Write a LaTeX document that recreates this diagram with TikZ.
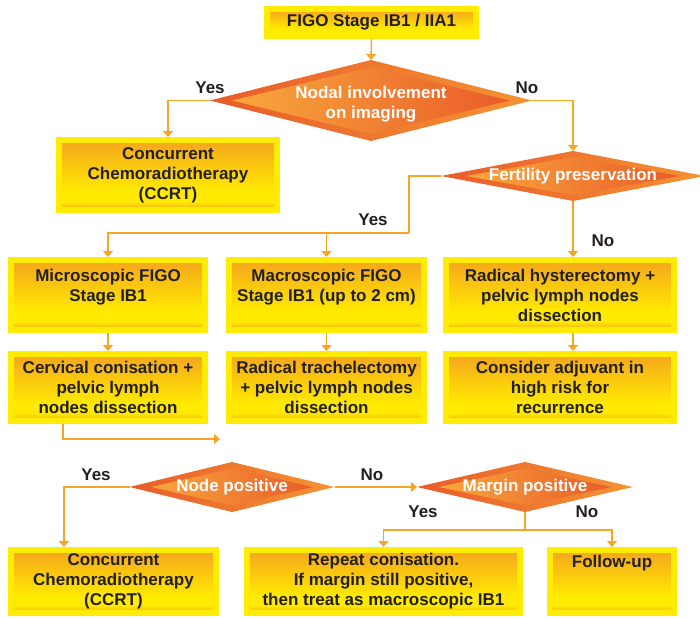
\documentclass[tikz,border=0pt]{standalone}
\usepackage{fontspec}
\setmainfont{Liberation Sans}
\usetikzlibrary{shapes.geometric,arrows.meta,calc}
\definecolor{frameY}{HTML}{FFEC00}
\definecolor{boxO}{HTML}{F6A91C}
\definecolor{boxY}{HTML}{FFEA00}
\definecolor{dDark}{HTML}{EA5B29}
\definecolor{dLight}{HTML}{F8A83C}
\definecolor{dOutR}{HTML}{F39433}
\definecolor{lineO}{HTML}{F6A623}
\definecolor{txt}{HTML}{231F20}
\pgfdeclareverticalshading{boxshade}{100bp}{color(0bp)=(boxO); color(25bp)=(boxO); color(31bp)=(boxY); color(38bp)=(boxY); color(73bp)=(boxO); color(100bp)=(boxO)}
\pgfdeclarehorizontalshading{dinner}{100bp}{color(0bp)=(dLight); color(25bp)=(dLight); color(75bp)=(dDark); color(100bp)=(dDark)}
\pgfdeclarehorizontalshading{douter}{100bp}{color(0bp)=(dDark); color(25bp)=(dDark); color(75bp)=(dOutR); color(100bp)=(dOutR)}
\tikzset{
  txtfont/.style={font=\bfseries\fontsize{17}{20}\selectfont},
  box/.style={rectangle, draw=frameY, line width=6pt, outer sep=3pt, shade, shading=boxshade,
    inner sep=0pt, align=center, text=txt, txtfont},
  dia/.style={diamond, inner sep=0pt, outer sep=0pt, shade, shading=douter},
  diain/.style={diamond, inner sep=0pt, outer sep=0pt, shade, shading=dinner},
  dtxt/.style={text=white, align=center, inner sep=0pt, txtfont},
  lbl/.style={text=txt, inner sep=0pt, txtfont},
  plain/.style={draw=lineO, line width=1.4pt},
  conn/.style={plain, -{Triangle[width=10pt,length=6pt]}},
}
\begin{document}
\begin{tikzpicture}[x=1pt,y=-1pt]
\useasboundingbox (0,0) rectangle (700,618);
% boxes
\node[box, minimum width=209pt, minimum height=27pt] (top) at (371.5,22.5) {FIGO Stage IB1 / IIA1};
\node[box, minimum width=218pt, minimum height=70pt] (cc1) at (168,175) {Concurrent\\Chemoradiotherapy\\(CCRT)};
\node[box, minimum width=194pt, minimum height=70pt] (a1) at (108,295) {Microscopic FIGO\\Stage IB1\\\phantom{S}};
\node[box, minimum width=195pt, minimum height=70pt] (b1) at (326.5,295) {Macroscopic FIGO\\Stage IB1 (up to 2 cm)\\\phantom{S}};
\node[box, minimum width=228pt, minimum height=70pt] (c1) at (560,295) {Radical hysterectomy +\\pelvic lymph nodes\\dissection};
\node[box, minimum width=194pt, minimum height=67pt] (a2) at (108,387.5) {Cervical conisation +\\pelvic lymph\\nodes dissection};
\node[box, minimum width=195pt, minimum height=67pt] (b2) at (326.5,387.5) {Radical trachelectomy\\+ pelvic lymph nodes\\dissection};
\node[box, minimum width=228pt, minimum height=67pt] (c2) at (560,387.5) {Consider adjuvant in\\high risk for\\recurrence};
\node[box, minimum width=205pt, minimum height=63pt] (cc2) at (113.5,581.5) {Concurrent\\Chemoradiotherapy\\(CCRT)};
\node[box, minimum width=273pt, minimum height=63pt] (rp) at (383.5,581.5) {Repeat conisation.\\If margin still positive,\\then treat as macroscopic IB1};
\node[box, minimum width=124pt, minimum height=63pt] (fu) at (612,581.5) {Follow-up\\\phantom{S}\\\phantom{S}};
% diamonds
\node[dia, minimum width=322pt, minimum height=81pt] (d1) at (371,100.5) {};
\node[diain, minimum width=278pt, minimum height=67pt] (d1i) at (d1) {};
\node[dtxt] (d1t) at ([yshift=-4pt]d1.center) {Nodal involvement\\on imaging};
\node[dia, minimum width=264pt, minimum height=50pt] (d2) at (573,176) {};
\node[diain, minimum width=214pt, minimum height=38pt] (d2i) at (d2) {};
\node[dtxt] (d2t) at (d2) {Fertility preservation};
\node[dia, minimum width=205pt, minimum height=50pt] (np) at (232,487) {};
\node[diain, minimum width=161pt, minimum height=37pt] (npi) at (np) {};
\node[dtxt] (npt) at (np) {Node positive};
\node[dia, minimum width=216pt, minimum height=50pt] (mp) at (525,487) {};
\node[diain, minimum width=172pt, minimum height=37pt] (mpi) at (mp) {};
\node[dtxt] (mpt) at (mp) {Margin positive};
% labels
\node[lbl] (yes1) at (210,88) {Yes};
\node[lbl] (no1) at (527,88) {No};
\node[lbl] (yes2) at (373,220) {Yes};
\node[lbl] (no2) at (603,241) {No};
\node[lbl] (yes3) at (96,475) {Yes};
\node[lbl] (no3) at (372,475) {No};
\node[lbl] (yes4) at (423,512) {Yes};
\node[lbl] (no4) at (587,512) {No};
% connectors
\draw[conn] (top.south) -- (d1.north);
\draw[conn] (d1.west) -| (cc1.north);
\draw[conn] (d1.east) -| (d2.north);
\coordinate (jn) at (409,233);
\draw[plain] (d2.west) -| (jn);
\draw[conn] (jn) -| (a1.north);
\draw[conn] (jn) -| (b1.north);
\draw[conn] (d2.south) -- (d2.south |- c1.north);
\draw[conn] (a1.south) -- (a2.north);
\draw[conn] (b1.south) -- (b2.north);
\draw[conn] (c1.south -| d2.south) -- (c2.north -| d2.south);
\coordinate (fe) at (220,439);
\draw[conn] ([xshift=-45pt]a2.south) |- (fe);
\draw[conn] (np.west) -| ([xshift=-49.5pt]cc2.north);
\draw[conn] (np.east) -- (mp.west);
\coordinate (mpj) at (525,530);
\draw[plain] (mp.south) -- (mpj);
\draw[conn] (mpj) -| (rp.north);
\draw[conn] (mpj) -| (fu.north);
\end{tikzpicture}
\end{document}
